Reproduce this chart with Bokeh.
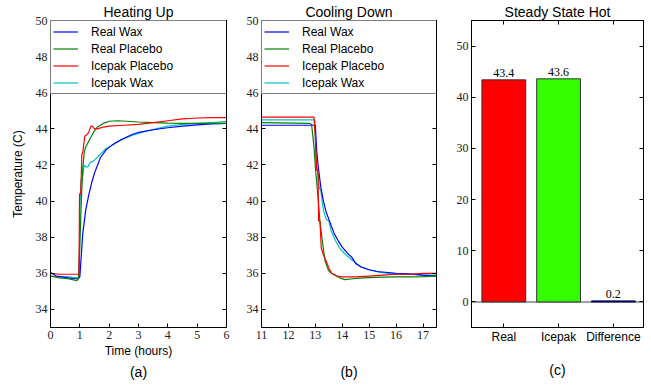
from bokeh.plotting import figure
from bokeh.layouts import row
from bokeh.models import (Range1d, LinearAxis, Legend, LegendItem, Span, Title,
                          FixedTicker, ColumnDataSource)
from bokeh.embed import file_html
from bokeh.resources import INLINE

# ---------------- data ----------------
series_names = ["Real Wax", "Real Placebo", "Icepak Placebo", "Icepak Wax"]
series_colors = ["#0000ff", "#008000", "#ff0000", "#00bfbf"]

# (a) Heating up
heat_t_real_wax = [0, 0.2, 0.4, 0.6, 0.8, 0.95, 1.0, 1.05, 1.1, 1.2, 1.3, 1.4, 1.5, 1.7, 1.9, 2.1,
                   2.4, 2.8, 3.0, 3.5, 4.0, 4.5, 5.0, 5.5, 6.0]
heat_T_real_wax = [36.05, 35.85, 35.8, 35.75, 35.7, 35.7, 35.8, 37.0, 38.2, 39.5, 40.3, 41.0, 41.55,
                   42.4, 42.85, 43.1, 43.4, 43.7, 43.8, 43.95, 44.06, 44.15, 44.22, 44.28, 44.3]

heat_t_real_placebo = [0, 0.3, 0.6, 0.9, 0.95, 1.0, 1.05, 1.1, 1.15, 1.2, 1.3, 1.4, 1.5, 1.6, 1.8,
                       2.0, 2.3, 2.6, 3.0, 3.5, 4.0, 4.5, 5.0, 5.5, 6.0]
heat_T_real_placebo = [35.85, 35.75, 35.7, 35.6, 35.7, 37.5, 40.0, 41.8, 42.7, 43.0, 43.3, 43.6,
                       43.9, 44.1, 44.3, 44.42, 44.45, 44.42, 44.38, 44.35, 44.32, 44.3, 44.3,
                       44.3, 44.3]

heat_t_icepak_placebo = [0, 0.3, 0.6, 0.9, 0.97, 0.99, 1.03, 1.07, 1.1, 1.17, 1.22, 1.3, 1.38,
                         1.42, 1.5, 1.6, 1.8, 2.0, 2.5, 3.0, 3.5, 4.0, 4.5, 5.0, 5.5, 6.0]
heat_T_icepak_placebo = [36.0, 35.95, 35.95, 35.95, 35.95, 40.4, 40.4, 42.6, 42.7, 43.6, 43.65,
                         43.8, 44.15, 44.15, 44.0, 44.0, 44.1, 44.15, 44.2, 44.25, 44.35, 44.45,
                         44.55, 44.6, 44.62, 44.62]

heat_t_icepak_wax = [0, 0.3, 0.6, 0.9, 0.98, 1.0, 1.04, 1.08, 1.15, 1.2, 1.28, 1.35, 1.45, 1.55,
                     1.7, 1.85, 2.0, 2.2, 2.5, 2.8, 3.2, 3.6, 4.0, 4.5, 5.0, 5.5, 6.0]
heat_T_icepak_wax = [35.85, 35.8, 35.8, 35.75, 35.75, 39.6, 41.2, 41.2, 42.0, 41.9, 41.9, 42.15,
                     42.2, 42.35, 42.6, 42.85, 43.0, 43.2, 43.45, 43.65, 43.85, 44.0, 44.15, 44.25,
                     44.3, 44.35, 44.4]

# (b) Cooling down
cool_t_real_wax = [11, 12.5, 13.0, 13.05, 13.1, 13.2, 13.3, 13.4, 13.5, 13.6, 13.7, 13.85, 14.0,
                   14.2, 14.35, 14.5, 14.7, 15.0, 15.3, 15.6, 16.0, 16.5, 17.0, 17.5]
cool_T_real_wax = [44.2, 44.2, 44.2, 42.8, 42.0, 40.8, 40.0, 39.4, 39.0, 38.6, 38.2, 37.8, 37.45,
                   37.1, 36.9, 36.55, 36.35, 36.2, 36.1, 36.06, 36.0, 35.97, 35.9, 35.85]

cool_t_real_placebo = [11, 12.8, 12.86, 12.95, 13.0, 13.1, 13.17, 13.25, 13.36, 13.49, 13.6, 13.73,
                       13.9, 14.1, 14.4, 14.8, 15.2, 16.0, 16.5, 17.0, 17.5]
cool_T_real_placebo = [44.35, 44.3, 44.25, 43.0, 41.9, 40.2, 38.9, 37.9, 36.7, 36.15, 36.0, 35.9,
                       35.75, 35.65, 35.7, 35.75, 35.78, 35.8, 35.8, 35.82, 35.85]

cool_t_icepak_placebo = [11, 12.95, 13.0, 13.05, 13.1, 13.12, 13.17, 13.22, 13.3, 13.4, 13.5, 13.6,
                         13.8, 14.0, 14.5, 15.0, 15.5, 16.0, 16.5, 17.0, 17.5]
cool_T_icepak_placebo = [44.65, 44.65, 43.5, 41.7, 41.7, 38.9, 38.9, 37.4, 37.0, 36.7, 36.3, 36.0,
                         35.85, 35.8, 35.8, 35.85, 35.9, 35.95, 35.95, 36.0, 36.0]

cool_t_icepak_wax = [11, 12.98, 13.03, 13.08, 13.15, 13.2, 13.3, 13.4, 13.5, 13.6, 13.75, 13.9,
                     14.1, 14.4, 14.7, 15.0, 15.4, 16.0, 16.5, 17.0, 17.5]
cool_T_icepak_wax = [44.5, 44.5, 42.0, 41.7, 40.7, 40.6, 39.5, 39.0, 38.9, 38.3, 37.8, 37.4, 37.07,
                     36.7, 36.35, 36.2, 36.05, 35.95, 35.95, 35.9, 35.9]

# (c) Steady state hot
bar_categories = ["Real", "Icepak", "Difference"]
bar_values = [43.4, 43.6, 0.2]
bar_colors = ["#ff0000", "#33ff00", "#000080"]
bar_edge_colors = ["#333333", "#333333", "#000050"]

heat_ticks_x = [0, 1, 2, 3, 4, 5, 6]
cool_ticks_x = [11, 12, 13, 14, 15, 16, 17]
temp_ticks = [34, 36, 38, 40, 42, 44, 46, 48, 50]
bar_ticks_y = [0, 10, 20, 30, 40, 50]

# ---------------- layout constants ----------------
FIG_H = 384
TOP = 20
BOTTOM = 57
SERIF = "Liberation Serif"
SANS = "Liberation Sans"
TICK_COLOR = "#222222"


def make_fig(xr, yr, width, left, right, title):
    p = figure(x_range=xr, y_range=yr, width=width, height=FIG_H, title=title,
               min_border_left=left, min_border_right=right, min_border_top=TOP,
               min_border_bottom=BOTTOM, toolbar_location=None, output_backend="svg")
    p.xgrid.grid_line_color = None
    p.ygrid.grid_line_color = None
    p.outline_line_color = "black"
    p.outline_line_width = 1
    p.background_fill_color = "white"
    p.border_fill_color = "white"
    p.title.align = "center"
    p.title.text_font = SANS
    p.title.text_font_size = "14px"
    p.title.text_font_style = "normal"
    p.title.text_color = "black"
    p.title.standoff = 1
    return p


def blank_axis(ticks):
    return LinearAxis(ticker=FixedTicker(ticks=ticks), major_label_text_font_size="0px",
                      major_label_text_color=None, major_tick_in=4, major_tick_out=0,
                      minor_tick_line_color=None, major_label_standoff=0,
                      axis_line_color="black")


def style_axes(p, xticks, yticks, xlabel_font=SERIF, top_ticks=False, xstandoff=3):
    bottom = p.below[0]
    left = p.left[0]
    bottom.ticker = FixedTicker(ticks=xticks)
    bottom.major_label_text_font = xlabel_font
    bottom.major_label_text_font_size = "12px"
    bottom.major_label_text_color = TICK_COLOR
    bottom.major_label_standoff = xstandoff
    left.ticker = FixedTicker(ticks=yticks)
    left.major_label_text_font = SERIF
    left.major_label_text_font_size = "12px"
    left.major_label_text_color = TICK_COLOR
    left.major_label_standoff = 3
    for ax in (bottom, left):
        ax.major_tick_in = 4
        ax.major_tick_out = 0
        ax.minor_tick_line_color = None
        ax.axis_line_color = "black"
        ax.major_tick_line_color = "black"
        ax.axis_label_text_font = SANS
        ax.axis_label_text_font_size = "12px"
        ax.axis_label_text_font_style = "normal"
        ax.axis_label_text_color = "black"
    bottom.axis_label = " "
    bottom.axis_label_standoff = 2
    if top_ticks:
        p.add_layout(blank_axis(xticks), "above")
    p.add_layout(blank_axis(yticks), "right")
    return bottom, left


def add_sub(p, text, standoff=0):
    p.add_layout(Title(text=text, align="center", text_font=SANS, text_font_size="14px",
                       text_font_style="normal", text_color="black", standoff=standoff), "below")


def add_legend(p, renderers, fw):
    items = [LegendItem(label=n, renderers=[r]) for n, r in zip(series_names, renderers)]
    lg = Legend(items=items, location="top_left", margin=0, padding=2, spacing=0,
                label_height=17, glyph_height=17, glyph_width=25, label_standoff=13,
                label_width=fw - 4 - 25 - 13, border_line_color="black", border_line_width=1,
                background_fill_color="white", background_fill_alpha=1.0,
                label_text_font=SANS, label_text_font_size="12px", label_text_color="black")
    p.add_layout(lg)


draw_order = [3, 0, 1, 2]

# ---------------- (a) ----------------
pa = make_fig(Range1d(0, 6), Range1d(33, 50), 243, 50, 17, "Heating Up")
heat_data = [(heat_t_real_wax, heat_T_real_wax), (heat_t_real_placebo, heat_T_real_placebo),
             (heat_t_icepak_placebo, heat_T_icepak_placebo), (heat_t_icepak_wax, heat_T_icepak_wax)]
rend_a = [None] * 4
for i in draw_order:
    t, T = heat_data[i]
    rend_a[i] = pa.line(t, T, line_color=series_colors[i], line_width=1.2)
ax_b, ax_l = style_axes(pa, heat_ticks_x, temp_ticks)
ax_b.axis_label = "Time (hours)"
ax_l.axis_label = "Temperature (C)"
ax_l.axis_label_standoff = 8
add_legend(pa, rend_a, 176)
add_sub(pa, "(a)", standoff=2)

# ---------------- (b) ----------------
pb = make_fig(Range1d(11, 17.5), Range1d(33, 50), 210, 17, 17, "Cooling Down")
cool_data = [(cool_t_real_wax, cool_T_real_wax), (cool_t_real_placebo, cool_T_real_placebo),
             (cool_t_icepak_placebo, cool_T_icepak_placebo), (cool_t_icepak_wax, cool_T_icepak_wax)]
rend_b = [None] * 4
for i in draw_order:
    t, T = cool_data[i]
    rend_b[i] = pb.line(t, T, line_color=series_colors[i], line_width=1.2)
style_axes(pb, cool_ticks_x, temp_ticks)
add_legend(pb, rend_b, 176)
add_sub(pb, "(b)", standoff=2)

# ---------------- (c) ----------------
pc = make_fig(Range1d(-0.59, 2.55), Range1d(-5, 55), 197, 17, 7, "Steady State Hot")
bar_x = list(range(len(bar_categories)))
src = ColumnDataSource(dict(x=bar_x, top=bar_values, color=bar_colors, edge=bar_edge_colors,
                            label=[f"{v:.1f}" for v in bar_values]))
pc.add_layout(Span(location=0, dimension="width", line_color="#808080", line_width=1.5,
                   level="underlay"))
pc.vbar(x="x", top="top", width=0.8, fill_color="color", line_color="edge", line_width=1,
        source=src)
pc.text(x="x", y="top", text="label", source=src, text_align="center", text_baseline="bottom",
        y_offset=-3, text_font=SANS, text_font_size="12px", text_color="black")
cb, cl = style_axes(pc, bar_x, bar_ticks_y, xlabel_font=SANS, top_ticks=True, xstandoff=2)
cb.major_label_overrides = {i: c for i, c in enumerate(bar_categories)}
cb.major_label_text_color = "black"
# sub-caption "(c)" drawn as the bottom axis label of the bar panel
cb.axis_label = "(c)"
cb.axis_label_text_font_size = "14px"
cb.axis_label_standoff = 15

layout = row(pa, pb, pc)
open("out.html", "w").write(file_html(layout, INLINE))
